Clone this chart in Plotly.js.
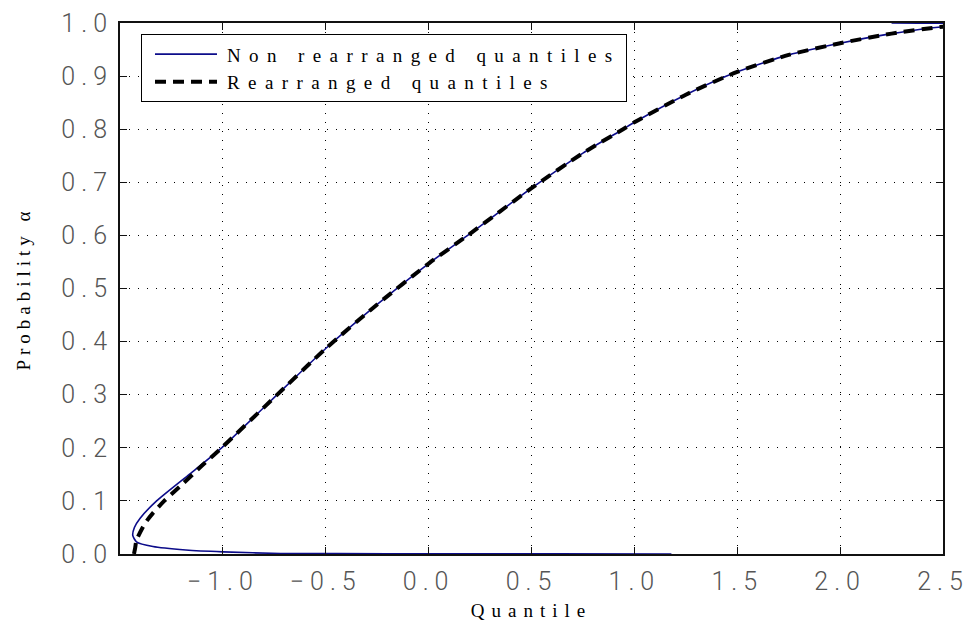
<!DOCTYPE html>
<html>
<head>
<meta charset="utf-8">
<script src="https://cdn.plot.ly/plotly-3.0.1.min.js"></script>
<style>
  html, body { margin: 0; padding: 0; background: #fff; }
  #chart { width: 971px; height: 628px; }
  .xtick text, .ytick text { letter-spacing: 6px; }
  .legendtext { letter-spacing: 8.4px; }
  .g-xtitle text { letter-spacing: 7px; }
  .g-ytitle text { letter-spacing: 5px; }
</style>
</head>
<body>
<div id="chart"></div>
<script>
// Non rearranged quantiles (quantile value, probability)
const blueX = [1.18, 0.6, -0.2, -0.72, -1.0, -1.18, -1.34, -1.42, -1.438, -1.43, -1.403, -1.322, -1.16, -1.006, -0.763, -0.5, -0.25, 0.0, 0.19, 0.5, 0.75, 0.945, 1.0, 1.25, 1.5, 1.75, 2.0, 2.25, 2.5, 2.8, 2.25];
const blueY = [0.0, 0.0002, 0.0006, 0.001, 0.004, 0.0075, 0.014, 0.023, 0.035, 0.05, 0.067, 0.1, 0.151, 0.2, 0.29, 0.387, 0.47, 0.547, 0.6, 0.689, 0.755, 0.8, 0.813, 0.865, 0.908, 0.94, 0.962, 0.98, 0.993, 0.998, 1.0];
// Rearranged quantiles
const blackX = [-1.432, -1.426, -1.42, -1.378, -1.34, -1.285, -1.193, -1.1, -1.006, -0.763, -0.5, -0.25, 0.0, 0.19, 0.5, 0.75, 0.945, 1.0, 1.25, 1.5, 1.75, 2.0, 2.25, 2.5, 2.8];
const blackY = [0.0, 0.012, 0.026, 0.058, 0.077, 0.1, 0.133, 0.167, 0.2, 0.29, 0.387, 0.47, 0.547, 0.6, 0.689, 0.755, 0.8, 0.813, 0.865, 0.908, 0.94, 0.962, 0.98, 0.993, 0.999];

const seriesNames = ["Non rearranged quantiles", "Rearranged quantiles"];
const xTickVals = [-1.0, -0.5, 0.0, 0.5, 1.0, 1.5, 2.0, 2.5];
const xTickText = ["\u22121.0", "\u22120.5", "0.0", "0.5", "1.0", "1.5", "2.0", "2.5"];
const yTickVals = [0.0, 0.1, 0.2, 0.3, 0.4, 0.5, 0.6, 0.7, 0.8, 0.9, 1.0];
const yTickText = ["0.0", "0.1", "0.2", "0.3", "0.4", "0.5", "0.6", "0.7", "0.8", "0.9", "1.0"];

const tickFont = { family: "Roboto, 'Liberation Sans', sans-serif", size: 25, color: "#555", weight: 300 };
const serifFont = { family: "'Liberation Serif', 'DejaVu Serif', serif", size: 19, color: "#000" };

const traces = [
  { x: blueX, y: blueY, name: seriesNames[0], mode: "lines", type: "scatter",
    line: { color: "#0c0c8a", width: 1.6, shape: "spline", smoothing: 0.6 } },
  { x: blackX, y: blackY, name: seriesNames[1], mode: "lines", type: "scatter",
    line: { color: "#000", width: 4, dash: "11px,7px", shape: "spline", smoothing: 0.6 } }
];

const axisCommon = {
  showline: true, linecolor: "#111", linewidth: 2, mirror: "ticks",
  ticks: "inside", ticklen: 7, tickcolor: "#111", tickwidth: 1,
  showgrid: true, gridcolor: "#000", gridwidth: 1, griddash: "1px,8px",
  zeroline: false, tickfont: tickFont, ticklabeloverflow: "allow"
};

const layout = {
  width: 971, height: 628,
  margin: { l: 120, r: 28, t: 23, b: 74 },
  paper_bgcolor: "#fff", plot_bgcolor: "#fff",
  showlegend: true,
  legend: {
    x: 0.0255, y: 0.9787, xanchor: "left", yanchor: "top",
    bgcolor: "#fff", bordercolor: "#000", borderwidth: 1,
    font: serifFont, itemwidth: 75, tracegroupgap: 0
  },
  xaxis: Object.assign({}, axisCommon, {
    range: [-1.5, 2.5], tickvals: xTickVals, ticktext: xTickText,
    ticklabelstandoff: 4,
    title: { text: "Quantile", font: serifFont, standoff: 9 }
  }),
  yaxis: Object.assign({}, axisCommon, {
    range: [0, 1], tickvals: yTickVals, ticktext: yTickText,
    ticklabelstandoff: 0,
    title: { text: "Probability \u03b1", font: serifFont, standoff: 26 }
  })
};

Plotly.newPlot("chart", traces, layout, { displayModeBar: false, staticPlot: true }).then(function () {
  document.querySelectorAll(".legendlines path").forEach(function (p) {
    p.setAttribute("d", "M13,0h62");
  });
});
</script>
</body>
</html>
